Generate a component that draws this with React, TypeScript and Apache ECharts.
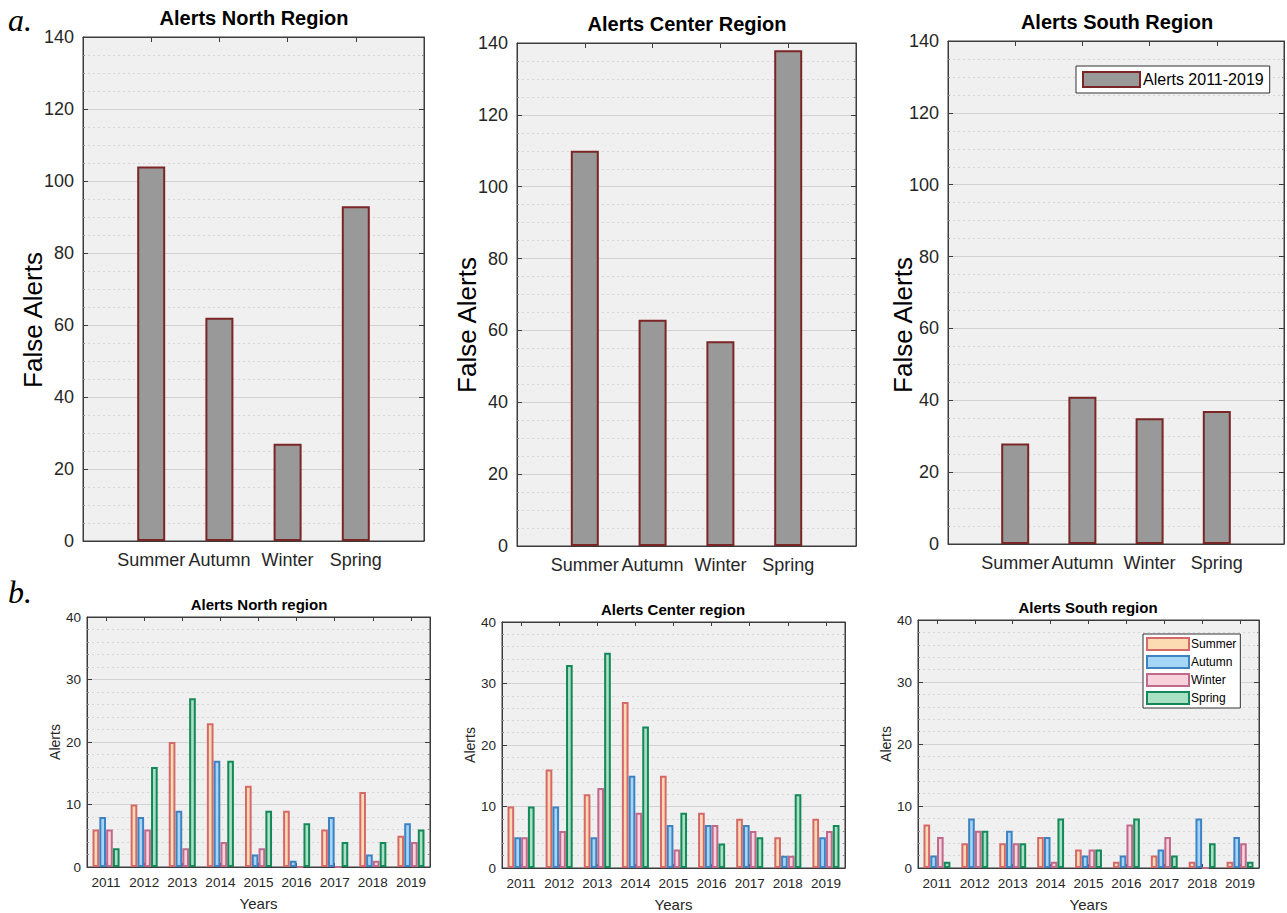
import React, { useEffect, useRef } from "react";
import * as echarts from "echarts";

// ---------- data ----------
const seasons = ["Summer", "Autumn", "Winter", "Spring"];
const years = ["2011", "2012", "2013", "2014", "2015", "2016", "2017", "2018", "2019"];
const topTicks = [0, 20, 40, 60, 80, 100, 120, 140];
const bottomTicks = [0, 10, 20, 30, 40];

const totalNorth = [104, 62, 27, 93];
const totalCenter = [110, 63, 57, 138];
const totalSouth = [28, 41, 35, 37];

const northSummer = [6, 10, 20, 23, 13, 9, 6, 12, 5];
const northAutumn = [8, 8, 9, 17, 2, 1, 8, 2, 7];
const northWinter = [6, 6, 3, 4, 3, 0, 0, 1, 4];
const northSpring = [3, 16, 27, 17, 9, 7, 4, 4, 6];

const centerSummer = [10, 16, 12, 27, 15, 9, 8, 5, 8];
const centerAutumn = [5, 10, 5, 15, 7, 7, 7, 2, 5];
const centerWinter = [5, 6, 13, 9, 3, 7, 6, 2, 6];
const centerSpring = [10, 33, 35, 23, 9, 4, 5, 12, 7];

const southSummer = [7, 4, 4, 5, 3, 1, 2, 1, 1];
const southAutumn = [2, 8, 6, 5, 2, 2, 3, 8, 5];
const southWinter = [5, 6, 4, 1, 3, 7, 5, 0, 4];
const southSpring = [1, 6, 4, 8, 3, 8, 2, 4, 1];

const topTitles = ["Alerts North Region", "Alerts Center Region", "Alerts South Region"];
const bottomTitles = ["Alerts North region", "Alerts Center region", "Alerts South region"];
const totalLegend = "Alerts 2011-2019";
const topYName = "False Alerts";

// ---------- styling ----------
const FONT = "'Liberation Sans', Arial, Helvetica, sans-serif";
const TEXT = "#262626";
const AXIS = "#3c3c3c";
const BG = "#f0f0f0";

const seasonFill = ["#fddbb2", "#a6d6f6", "#f9d3dc", "#a9e1c4"];
const seasonEdge = ["#d5696a", "#3f82c2", "#bf6a8c", "#15885a"];

const topGrids = [
  { left: 83, top: 37, width: 341, height: 504 },
  { left: 517, top: 43, width: 339, height: 503 },
  { left: 948, top: 41, width: 338, height: 503 },
];
const bottomGrids = [
  { left: 87, top: 617, width: 343, height: 250 },
  { left: 502, top: 622, width: 343, height: 250 },
  { left: 918, top: 620, width: 341, height: 249 },
];
const topYNamePos = [
  [33, 320],
  [467, 325],
  [903, 325],
];
const topTitlePos = [
  [254, 18],
  [687, 24],
  [1117, 22],
];
const bottomTitlePos = [
  [259, 604],
  [673, 609],
  [1088, 607],
];

export default function App() {
  const ref = useRef<HTMLDivElement | null>(null);

  useEffect(() => {
    if (!ref.current) return;
    const chart = echarts.init(ref.current, null, { renderer: "svg" });

    const totals = [totalNorth, totalCenter, totalSouth];
    const yearly = [
      [northSummer, northAutumn, northWinter, northSpring],
      [centerSummer, centerAutumn, centerWinter, centerSpring],
      [southSummer, southAutumn, southWinter, southSpring],
    ];

    const grid: any[] = [];
    const xAxis: any[] = [];
    const yAxis: any[] = [];
    const series: any[] = [];

    const gridStyle = {
      show: true,
      backgroundColor: BG,
      borderColor: AXIS,
      borderWidth: 1,
      containLabel: false,
    };

    const mkY = (gi: number, max: number, interval: number, minorSplit: number, right: boolean, extra: any) => ({
      gridIndex: gi,
      type: "value",
      position: right ? "right" : "left",
      min: 0,
      max,
      interval,
      axisLine: { show: true, onZero: false, lineStyle: { color: AXIS, width: 1 } },
      axisTick: { show: true, inside: true, length: 5, lineStyle: { color: AXIS } },
      minorTick: { show: true, splitNumber: minorSplit, length: 2, lineStyle: { color: "#8a8a8a" } },
      splitLine: right ? { show: false } : { show: true, lineStyle: { color: "#d2d2d2", width: 1 } },
      minorSplitLine: right
        ? { show: false }
        : { show: true, lineStyle: { color: "#d6d6d6", width: 1, type: [2, 3] } },
      axisLabel: { show: !right },
      ...extra,
    });

    // top charts
    for (let i = 0; i < 3; i++) {
      const gi = i;
      grid.push({ ...topGrids[i], ...gridStyle });
      const xBase = {
        gridIndex: gi,
        type: "value",
        min: 0,
        max: seasons.length + 1,
        interval: 1,
        splitLine: { show: false },
        axisLine: { show: true, onZero: false, lineStyle: { color: AXIS } },
        axisTick: { show: true, inside: true, length: 5, lineStyle: { color: AXIS } },
      };
      xAxis.push({
        ...xBase,
        position: "bottom",
        axisLabel: {
          show: true,
          fontSize: 18,
          color: TEXT,
          fontFamily: FONT,
          margin: 10,
          showMinLabel: true,
          showMaxLabel: true,
          formatter: (v: number) => seasons[v - 1] ?? "",
        },
      });
      xAxis.push({ ...xBase, position: "top", axisLabel: { show: false } });
      yAxis.push(
        mkY(gi, topTicks[topTicks.length - 1], topTicks[1] - topTicks[0], 4, false, {
          axisLabel: { show: true, fontSize: 18, color: TEXT, fontFamily: FONT, margin: 9 },
        })
      );
      yAxis.push(mkY(gi, topTicks[topTicks.length - 1], topTicks[1] - topTicks[0], 4, true, {}));
      series.push({
        type: "bar",
        name: totalLegend,
        xAxisIndex: xAxis.length - 2,
        yAxisIndex: yAxis.length - 2,
        barWidth: 28,
        data: totals[i].map((v, k) => [k + 1, v]),
        itemStyle: { color: "#999999", borderColor: "#7b2626", borderWidth: 2 },
      });
    }

    // bottom charts
    for (let i = 0; i < 3; i++) {
      const gi = 3 + i;
      grid.push({ ...bottomGrids[i], ...gridStyle });
      const xBase = {
        gridIndex: gi,
        type: "category",
        data: years,
        axisLine: { show: true, onZero: false, lineStyle: { color: AXIS } },
        axisTick: { show: true, inside: true, alignWithLabel: true, length: 4, lineStyle: { color: AXIS } },
        splitLine: { show: false },
      };
      xAxis.push({
        ...xBase,
        position: "bottom",
        axisLabel: { show: true, fontSize: 13.5, color: TEXT, fontFamily: FONT, margin: 8, interval: 0 },
        name: "Years",
        nameLocation: "middle",
        nameGap: 29,
        nameTextStyle: { fontSize: 15, color: TEXT, fontFamily: FONT },
      });
      xAxis.push({ ...xBase, position: "top", axisLabel: { show: false } });
      const ymax = bottomTicks[bottomTicks.length - 1];
      const yint = bottomTicks[1] - bottomTicks[0];
      yAxis.push(
        mkY(gi, ymax, yint, 5, false, {
          axisLabel: { show: true, fontSize: 13.5, color: TEXT, fontFamily: FONT, margin: 6 },
          name: "Alerts",
          nameLocation: "middle",
          nameGap: 25,
          nameTextStyle: { fontSize: 14, color: TEXT, fontFamily: FONT },
        })
      );
      yAxis.push(mkY(gi, ymax, yint, 5, true, {}));
      const xi = xAxis.length - 2;
      const yi = yAxis.length - 2;
      seasons.forEach((s, k) => {
        series.push({
          type: "bar",
          name: s,
          xAxisIndex: xi,
          yAxisIndex: yi,
          barGap: "2%",
          barCategoryGap: "29%",
          data: yearly[i][k],
          itemStyle: { color: seasonFill[k], borderColor: seasonEdge[k], borderWidth: 2 },
        });
      });
    }

    const graphic: any[] = [];
    topTitles.forEach((t, i) => {
      graphic.push({
        type: "text",
        x: topTitlePos[i][0],
        y: topTitlePos[i][1],
        style: {
          text: t,
          fontSize: 20,
          fontWeight: "bold",
          fontFamily: FONT,
          fill: "#000",
          align: "center",
          verticalAlign: "middle",
        },
      });
      graphic.push({
        type: "text",
        x: topYNamePos[i][0],
        y: topYNamePos[i][1],
        rotation: Math.PI / 2,
        style: {
          text: topYName,
          fontSize: 26,
          fontFamily: FONT,
          fill: "#000",
          align: "center",
          verticalAlign: "middle",
        },
      });
    });
    bottomTitles.forEach((t, i) => {
      graphic.push({
        type: "text",
        x: bottomTitlePos[i][0],
        y: bottomTitlePos[i][1],
        style: {
          text: t,
          fontSize: 15,
          fontWeight: "bold",
          fontFamily: FONT,
          fill: "#000",
          align: "center",
          verticalAlign: "middle",
        },
      });
    });
    const serif = "'Liberation Serif', 'Times New Roman', serif";
    graphic.push({
      type: "text",
      x: 8,
      y: 20,
      style: { text: "a.", fontSize: 32, fontStyle: "italic", fontFamily: serif, fill: "#000", align: "left", verticalAlign: "middle" },
    });
    graphic.push({
      type: "text",
      x: 8,
      y: 592,
      style: { text: "b.", fontSize: 32, fontStyle: "italic", fontFamily: serif, fill: "#000", align: "left", verticalAlign: "middle" },
    });

    chart.setOption({
      animation: false,
      backgroundColor: "#ffffff",
      grid,
      xAxis,
      yAxis,
      series,
      graphic,
      legend: [
        {
          data: [{ name: totalLegend, icon: "rect" }],
          left: 1076,
          top: 66,
          orient: "horizontal",
          itemWidth: 57,
          itemHeight: 15,
          itemGap: 4,
          padding: [5, 6, 5, 6],
          backgroundColor: "#ffffff",
          borderColor: "#333333",
          borderWidth: 1,
          borderRadius: 0,
          selectedMode: false,
          textStyle: { fontSize: 16, color: "#000", fontFamily: FONT, padding: [0, 0, 0, -2] },
        },
        {
          data: seasons.map((s) => ({ name: s, icon: "rect" })),
          left: 1143,
          top: 634,
          orient: "vertical",
          itemWidth: 42,
          itemHeight: 12,
          itemGap: 4,
          padding: [3, 4, 3, 3],
          backgroundColor: "#ffffff",
          borderColor: "#333333",
          borderWidth: 1,
          borderRadius: 0,
          selectedMode: false,
          textStyle: { fontSize: 12, color: "#000", fontFamily: FONT, padding: [0, 0, 0, -3] },
        },
      ],
    });

    return () => chart.dispose();
  }, []);

  return (
    <div
      ref={ref}
      style={{ position: "fixed", left: 0, top: 0, width: 1287, height: 913, background: "#fff" }}
    />
  );
}
